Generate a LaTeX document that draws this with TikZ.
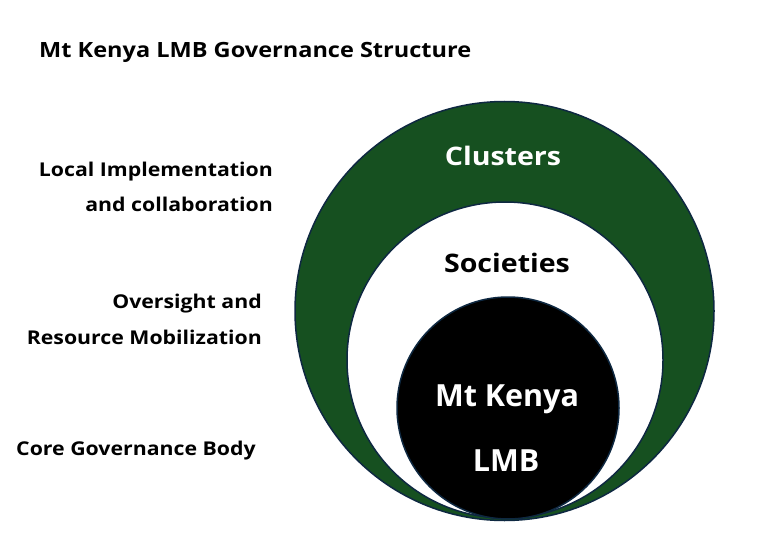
\documentclass[tikz,border=0pt]{standalone}
\usepackage{fontspec}
\setmainfont{Open Sans}[Ligatures=NoCommon, FakeStretch=1.12]
\newfontfamily\corefont{Open Sans}[Ligatures=NoCommon]
\definecolor{ringgreen}{RGB}{22,80,32}
\definecolor{edgeblue}{RGB}{14,40,65}
\tikzset{
  ring/.style={circle, draw=edgeblue, line width=1.5pt, inner sep=0pt},
  lbl/.style={font=\bfseries\fontsize{19}{23}\selectfont, inner sep=0pt, align=right},
  inlbl/.style={font=\bfseries\fontsize{25.5}{29}\selectfont, inner sep=0pt},
  corelbl/.style={font=\corefont\bfseries\fontsize{30.5}{34}\selectfont, inner sep=0pt, text=white}
}
\begin{document}
\begin{tikzpicture}[x=1pt,y=-1pt]
\useasboundingbox[fill=white] (0,0) rectangle (770,553);
\node[ring, fill=ringgreen, minimum size=419pt] (outer) at (504.5,311) {};
\node[ring, fill=white, minimum size=316pt] (middle) at (505,360) {};
\node[ring, fill=black, minimum size=222pt] (inner) at (508,408) {};
\node[font=\bfseries\fontsize{21}{25}\selectfont, anchor=west, inner sep=0pt] (title) at (39,52) {Mt Kenya LMB Governance Structure};
\node[inlbl, text=white] (clusters) at (503,156) {Clusters};
\node[inlbl] (societies) at (507,263) {Societies};
\node[corelbl] (mtk) at (507,399) {Mt Kenya};
\node[corelbl] (lmb) at (506,461) {LMB};
\node[lbl, anchor=east] (l1) at (273,172) {Local Implementation};
\node[lbl, anchor=east] (l2) at (273,204) {and collaboration};
\node[lbl, anchor=east] (l3) at (262,304) {Oversight and};
\node[lbl, anchor=east] (l4) at (262,337) {Resource Mobilization};
\node[lbl, anchor=west] (l5) at (16,451) {Core Governance Body};
\end{tikzpicture}
\end{document}
